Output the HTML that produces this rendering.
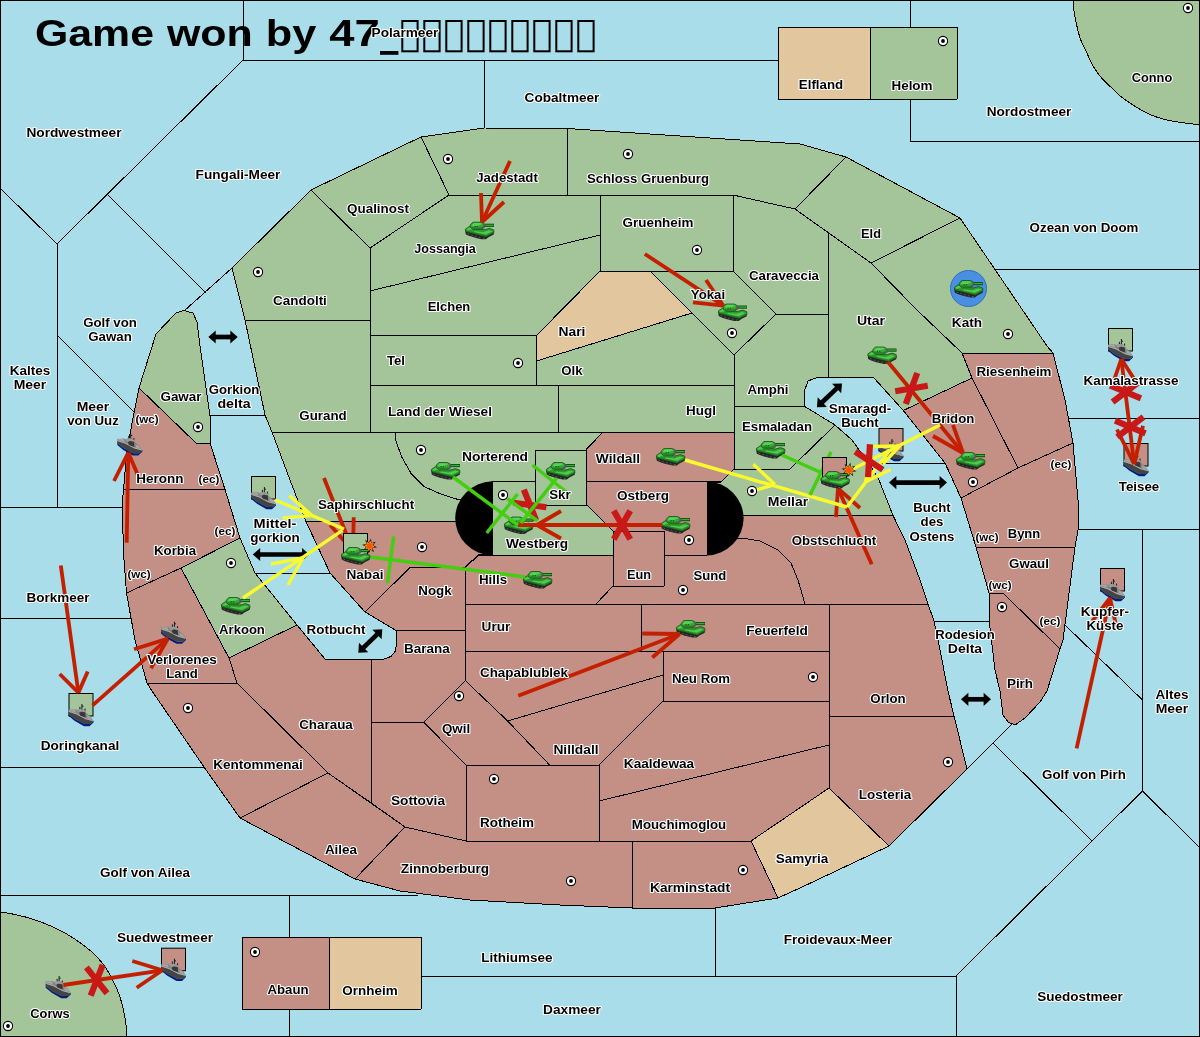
<!DOCTYPE html>
<html><head><meta charset="utf-8"><title>Game map</title>
<style>html,body{margin:0;padding:0;background:#a8dde9;overflow:hidden}body{width:1200px;height:1037px;position:relative;font-family:"Liberation Sans",sans-serif}</style>
</head><body>
<svg width="1200" height="1037" viewBox="0 0 1200 1037" style="display:block;position:absolute;left:0;top:0;will-change:transform" shape-rendering="geometricPrecision">
<defs>
<g id="tank">
<path d="M0.2,8.6 L0.7,12.6 L3,13.8 L8,15.4 L12,16.6 L16.4,17.5 L20.8,17.5 L23.4,15.6 L28.7,12.7 L29,10 L20,13 Z" fill="#262626"/>
<path d="M2.6,12 L4,12.6 M6.4,13.4 L7.8,14 M10.2,14.6 L11.6,15.1 M14,15.6 L15.4,16 M18,16.5 L19.6,16.5" stroke="#6a6a6a" stroke-width="0.8"/>
<path d="M0.4,7.4 L4.4,4.7 L8,6.6 L19,8 L24.6,6.6 L28.7,8.1 L29,10.9 L21.2,14.9 L16,13.7 L0.6,9.7 Z" fill="#31992f" stroke="#155217" stroke-width="0.8"/>
<path d="M10,9.4 L18,10.6 L24,8.6 L27.6,9.5 L21,12.7 L9,10.4 Z" fill="#4fca4f"/>
<path d="M1.2,7.7 L4.4,5.5 L7.4,7.2 L3,8.9 Z" fill="#4fca4f"/>
<path d="M0.8,9.2 L16,13 L21.2,14.2 L28.6,10.4" stroke="#1f7a1f" stroke-width="0.9" fill="none"/>
<path d="M5.2,3.2 L8,0.5 L16,0.5 L18.8,1.7 L19.2,6 L15.6,7.8 L8.4,7.8 L5.4,5.6 Z" fill="#38a838" stroke="#155217" stroke-width="0.8"/>
<path d="M7,3 L9,1.3 L15.6,1.3 L17.6,2.3 L12,4.3 L7.4,4.3 Z" fill="#56d256"/>
<path d="M6.4,5.3 L15,5.7 L18.4,4.7 L18.6,6 L15.4,7.2 L8.6,7.2 Z" fill="#267f26"/>
<rect x="9.6" y="4.2" width="1" height="1" fill="#0c300c"/><rect x="11.8" y="4.2" width="1" height="1" fill="#0c300c"/>
<rect x="18.2" y="2" width="1.8" height="4.4" fill="#5f6068"/>
<rect x="19.8" y="2" width="9.2" height="3.2" fill="#0c4f0e"/>
<rect x="20.2" y="2.9" width="8.4" height="1.3" fill="#35b035"/>
</g>
<g id="fleet">
<path d="M0,20.4 L0,22.8 L6,27.8 L15.5,33.2 L21,33.2 L25,29.4 L25,27.6 L21.5,30.8 L16,30.6 Z" fill="#00207f"/>
<path d="M0,16.6 L7,16.2 L8.6,17.2 L11,15.4 L12.4,15.4 L17.2,17.4 L17.6,20 L20,22 L22,23.4 L24.6,27.4 L25,28 L22,31 L16,31 L6,25.8 L0,21 Z" fill="#858585"/>
<path d="M0,18.8 L8,21.4 L17,26.2 L24.8,28.2 L22,31 L16,31 L6,25.8 L0,21 Z" fill="#444"/>
<path d="M0.4,18.4 L8,20.8 L17,25.6 L24.4,27.6" stroke="#b0b0b0" stroke-width="0.9" fill="none"/>
<path d="M1,16.8 L6.4,16.6 L7.4,19.6 L1,17.8 Z M18.4,22.2 L21.6,23.8 L23.6,26.6 L19,25.4 Z" fill="#a6a6a6"/>
<path d="M8.4,17.4 L11,15.6 L12.4,15.6 L16.8,17.6 L17,19.4 L13,18.4 L10.4,19.6 Z" fill="#9a9a9a"/>
<path d="M10.6,19.8 L13,18.8 L16.8,19.6 L17,24.6 L11.6,22.6 Z" fill="#383838"/>
<path d="M13.4,11 L13.4,16.2 M11.4,13.8 L11.4,16 M13.4,13.2 L15,13.2 M16.6,15.6 L16.6,17.4" stroke="#1c1c1c" stroke-width="1" fill="none"/>
</g>
<g id="boom"><polygon points="1.32,-7.48 1.93,-3.04 6.23,-4.36 3.51,-0.78 7.48,1.32 3.04,1.93 4.36,6.23 0.78,3.51 -1.32,7.48 -1.93,3.04 -6.23,4.36 -3.51,0.78 -7.48,-1.32 -3.04,-1.93 -4.36,-6.23 -0.78,-3.51" fill="#111"/><polygon points="0.94,-5.32 1.72,-2.7 4.42,-3.1 3.12,-0.69 5.32,0.94 2.7,1.72 3.1,4.42 0.69,3.12 -0.94,5.32 -1.72,2.7 -4.42,3.1 -3.12,0.69 -5.32,-0.94 -2.7,-1.72 -3.1,-4.42 -0.69,-3.12" fill="#ff9a00"/><polygon points="0,-3.9 1.3,-2.25 3.38,-1.95 2.6,0 3.38,1.95 1.3,2.25 0,3.9 -1.3,2.25 -3.38,1.95 -2.6,0 -3.38,-1.95 -1.3,-2.25" fill="#ff5200"/></g>
<g id="sc"><circle r="4.6" fill="#fff" stroke="#000" stroke-width="1.1"/><circle r="1.9" fill="#000"/></g>
</defs>
<rect x="0" y="0" width="1200" height="1037" fill="#a8dde9"/>
<path d="M1073.5,0 C1073.58,1.8 1073.5,6.75 1074,10.8 C1074.5,14.85 1075.42,19.5667 1076.5,24.3 C1077.58,29.0333 1078.7,34.25 1080.5,39.2 C1082.3,44.15 1085.05,49.2667 1087.3,54 C1089.55,58.7333 1091.55,63.5333 1094,67.6 C1096.45,71.6667 1099.07,75.0333 1102,78.4 C1104.93,81.7667 1108.43,84.7667 1111.6,87.8 C1114.77,90.8333 1117.17,93.5667 1121,96.6 C1124.83,99.6333 1129.63,102.95 1134.6,106 C1139.57,109.05 1145.17,112.517 1150.8,114.9 C1156.43,117.283 1162.53,118.917 1168.4,120.3 C1174.27,121.683 1180.73,122.483 1186,123.2 C1191.27,123.917 1197.67,124.367 1200,124.6 L1200,0 Z" fill="#a4c499" stroke="#000" stroke-width="1" shape-rendering="crispEdges"/>
<path d="M0,912 C2.66667,912.45 10.45,913.483 16,914.7 C21.55,915.917 27.5167,917.417 33.3,919.3 C39.0833,921.183 45.1333,923.55 50.7,926 C56.2667,928.45 61.8167,931.217 66.7,934 C71.5833,936.783 75.5667,939.483 80,942.7 C84.4333,945.917 89.3,949.533 93.3,953.3 C97.3,957.067 100.883,961.067 104,965.3 C107.117,969.533 109.55,974.033 112,978.7 C114.45,983.367 116.817,988.2 118.7,993.3 C120.583,998.4 122.083,1003.97 123.3,1009.3 C124.517,1014.63 125.433,1020.68 126,1025.3 C126.567,1029.92 126.583,1035.05 126.7,1037 L0,1037 Z" fill="#a4c499" stroke="#000" stroke-width="1" shape-rendering="crispEdges"/>
<polyline points="243,0 243,60 910,60" fill="none" stroke="#000" stroke-width="1" shape-rendering="crispEdges"/>
<polyline points="243,60 57,244" fill="none" stroke="#000" stroke-width="1" shape-rendering="crispEdges"/>
<polyline points="0,188 57,244 57,507" fill="none" stroke="#000" stroke-width="1" shape-rendering="crispEdges"/>
<polyline points="0,507 122,507" fill="none" stroke="#000" stroke-width="1" shape-rendering="crispEdges"/>
<polyline points="108,195 206,293" fill="none" stroke="#000" stroke-width="1" shape-rendering="crispEdges"/>
<polyline points="184,311 232,268" fill="none" stroke="#000" stroke-width="1" shape-rendering="crispEdges"/>
<polyline points="57,335 134,412" fill="none" stroke="#000" stroke-width="1" shape-rendering="crispEdges"/>
<polyline points="484,60 484,128" fill="none" stroke="#000" stroke-width="1" shape-rendering="crispEdges"/>
<polyline points="910,0 910,141" fill="none" stroke="#000" stroke-width="1" shape-rendering="crispEdges"/>
<polyline points="910,141 1200,141" fill="none" stroke="#000" stroke-width="1" shape-rendering="crispEdges"/>
<polyline points="995,269.5 1200,269.5" fill="none" stroke="#000" stroke-width="1" shape-rendering="crispEdges"/>
<polyline points="1068,418.5 1200,418.5" fill="none" stroke="#000" stroke-width="1" shape-rendering="crispEdges"/>
<polyline points="1078,529 1200,529" fill="none" stroke="#000" stroke-width="1" shape-rendering="crispEdges"/>
<polyline points="1142.5,529 1142.5,791" fill="none" stroke="#000" stroke-width="1" shape-rendering="crispEdges"/>
<polyline points="1065,625 1142.5,700" fill="none" stroke="#000" stroke-width="1" shape-rendering="crispEdges"/>
<polyline points="1142.5,791 1200,848" fill="none" stroke="#000" stroke-width="1" shape-rendering="crispEdges"/>
<polyline points="1142.5,791 956,976" fill="none" stroke="#000" stroke-width="1" shape-rendering="crispEdges"/>
<polyline points="1092,841 993,743" fill="none" stroke="#000" stroke-width="1" shape-rendering="crispEdges"/>
<polyline points="1012,724 967,769" fill="none" stroke="#000" stroke-width="1" shape-rendering="crispEdges"/>
<polyline points="421,976 956,976 956,1037" fill="none" stroke="#000" stroke-width="1" shape-rendering="crispEdges"/>
<polyline points="715,908 715,976" fill="none" stroke="#000" stroke-width="1" shape-rendering="crispEdges"/>
<polyline points="0,895 418,895" fill="none" stroke="#000" stroke-width="1" shape-rendering="crispEdges"/>
<polyline points="289,895 289,1037" fill="none" stroke="#000" stroke-width="1" shape-rendering="crispEdges"/>
<polyline points="0,767 204,767" fill="none" stroke="#000" stroke-width="1" shape-rendering="crispEdges"/>
<polyline points="0,618.5 131,618.5" fill="none" stroke="#000" stroke-width="1" shape-rendering="crispEdges"/>
<polyline points="210,415 265,415" fill="none" stroke="#000" stroke-width="1" shape-rendering="crispEdges"/>
<polyline points="255,573 330,573" fill="none" stroke="#000" stroke-width="1" shape-rendering="crispEdges"/>
<polyline points="934,621 989,621" fill="none" stroke="#000" stroke-width="1" shape-rendering="crispEdges"/>
<polyline points="868,463.5 945,463.5" fill="none" stroke="#000" stroke-width="1" shape-rendering="crispEdges"/>
<polygon points="232,268 311,190 370,248 370,320 245,320" fill="#a4c499" stroke="#000" stroke-width="1" stroke-linejoin="round" shape-rendering="crispEdges"/>
<polygon points="311,190 400,147 421,137 449,195 370,248" fill="#a4c499" stroke="#000" stroke-width="1" stroke-linejoin="round" shape-rendering="crispEdges"/>
<polygon points="421,137 484,128 567,128.5 567,195 449,195" fill="#a4c499" stroke="#000" stroke-width="1" stroke-linejoin="round" shape-rendering="crispEdges"/>
<polygon points="567,128.5 800,144 846,157 795,209 733,195 567,195" fill="#a4c499" stroke="#000" stroke-width="1" stroke-linejoin="round" shape-rendering="crispEdges"/>
<polygon points="449,195 600,195 600,235 370,291 370,248" fill="#a4c499" stroke="#000" stroke-width="1" stroke-linejoin="round" shape-rendering="crispEdges"/>
<polygon points="600,195 733,195 733,271 600,271" fill="#a4c499" stroke="#000" stroke-width="1" stroke-linejoin="round" shape-rendering="crispEdges"/>
<polygon points="370,291 600,235 600,271 536.5,335.5 370,335.5" fill="#a4c499" stroke="#000" stroke-width="1" stroke-linejoin="round" shape-rendering="crispEdges"/>
<polygon points="600,271 650,271 692,313 536.5,361 536.5,335.5" fill="#e2c69e" stroke="#000" stroke-width="1" stroke-linejoin="round" shape-rendering="crispEdges"/>
<polygon points="370,335.5 536.5,335.5 536.5,385 370,385" fill="#a4c499" stroke="#000" stroke-width="1" stroke-linejoin="round" shape-rendering="crispEdges"/>
<polygon points="536.5,361 692,313 734,355 734,385 536.5,385" fill="#a4c499" stroke="#000" stroke-width="1" stroke-linejoin="round" shape-rendering="crispEdges"/>
<polygon points="650,271 733,271 776,314 734,355" fill="#a4c499" stroke="#000" stroke-width="1" stroke-linejoin="round" shape-rendering="crispEdges"/>
<polygon points="733,195 795,209 828,232.5 828,314 776,314 733,271" fill="#a4c499" stroke="#000" stroke-width="1" stroke-linejoin="round" shape-rendering="crispEdges"/>
<polygon points="846,157 960,218 871,263 795,209" fill="#a4c499" stroke="#000" stroke-width="1" stroke-linejoin="round" shape-rendering="crispEdges"/>
<polygon points="828,232.5 871,263 917,310 962,353 972,378 903.3,410.5 874,378 828,377.5" fill="#a4c499" stroke="#000" stroke-width="1" stroke-linejoin="round" shape-rendering="crispEdges"/>
<polygon points="960,218 1047,346 1053,353 962,353 917,310 871,263" fill="#a4c499" stroke="#000" stroke-width="1" stroke-linejoin="round" shape-rendering="crispEdges"/>
<polygon points="734,355 776,314 828,314 828,377.5 817,377.5 808,381 804,392 804,406 734,406" fill="#a4c499" stroke="#000" stroke-width="1" stroke-linejoin="round" shape-rendering="crispEdges"/>
<polygon points="245,320 370,320 370,432 272,432 265,415" fill="#a4c499" stroke="#000" stroke-width="1" stroke-linejoin="round" shape-rendering="crispEdges"/>
<polygon points="370,385 558,385 558,432 370,432" fill="#a4c499" stroke="#000" stroke-width="1" stroke-linejoin="round" shape-rendering="crispEdges"/>
<polygon points="558,385 734,385 734,432 558,432" fill="#a4c499" stroke="#000" stroke-width="1" stroke-linejoin="round" shape-rendering="crispEdges"/>
<polygon points="734,406 804,406 835,425 790,469 734,469" fill="#a4c499" stroke="#000" stroke-width="1" stroke-linejoin="round" shape-rendering="crispEdges"/>
<polygon points="734,469 790,469 835,425 852,440 872,468 879,480 893,515.5 707,515.5 707,482 721,482" fill="#a4c499" stroke="#000" stroke-width="1" stroke-linejoin="round" shape-rendering="crispEdges"/>
<polygon points="272,432 395,432 396,441 401.4,456.3 411.2,473.7 424.2,486.7 441.5,494.3 458.8,499.7 492,500 492,521.5 306,521.5 290,480" fill="#a4c499" stroke="#000" stroke-width="1" stroke-linejoin="round" shape-rendering="crispEdges"/>
<polygon points="395,432 603,432 587,449 587,450.3 535.5,450.3 535.5,481.7 492,481.7 492,500 458.8,499.7 441.5,494.3 424.2,486.7 411.2,473.7 401.4,456.3 396,441" fill="#a4c499" stroke="#000" stroke-width="1" stroke-linejoin="round" shape-rendering="crispEdges"/>
<polygon points="535.5,450.3 586.7,450.3 586.7,505 535.5,505" fill="#a4c499" stroke="#000" stroke-width="1" stroke-linejoin="round" shape-rendering="crispEdges"/>
<polygon points="492,481.7 535.5,481.7 535.5,505 586.7,505 613,531 613,555 492,555" fill="#a4c499" stroke="#000" stroke-width="1" stroke-linejoin="round" shape-rendering="crispEdges"/>
<polygon points="240,538 181,568 229,658 297,625 255,573" fill="#a4c499" stroke="#000" stroke-width="1" stroke-linejoin="round" shape-rendering="crispEdges"/>
<polygon points="139,388 156,334 176,313 184,310.5 193,313 197,322 200,346 210,416 210,443 196,443" fill="#a4c499" stroke="#000" stroke-width="1" stroke-linejoin="round" shape-rendering="crispEdges"/>
<polygon points="139,388 196,443 210,443 225,489.5 123.5,489.5 127,450 134,413" fill="#c48f85" stroke="#000" stroke-width="1" stroke-linejoin="round" shape-rendering="crispEdges"/>
<polygon points="123.5,489.5 225,489.5 240,538 181,568 126.5,593 124,560 122,507" fill="#c48f85" stroke="#000" stroke-width="1" stroke-linejoin="round" shape-rendering="crispEdges"/>
<polygon points="126.5,593 181,568 229,658 237,683 147,683 135,640" fill="#c48f85" stroke="#000" stroke-width="1" stroke-linejoin="round" shape-rendering="crispEdges"/>
<polygon points="147,683 237,683 328,773 240,818 204,767 152,691" fill="#c48f85" stroke="#000" stroke-width="1" stroke-linejoin="round" shape-rendering="crispEdges"/>
<polygon points="229,658 297,625 325,659 371.6,659 371.6,803.2 328,773 237,683" fill="#c48f85" stroke="#000" stroke-width="1" stroke-linejoin="round" shape-rendering="crispEdges"/>
<polygon points="240,818 328,773 405,827 355,879" fill="#c48f85" stroke="#000" stroke-width="1" stroke-linejoin="round" shape-rendering="crispEdges"/>
<polygon points="371.6,722.4 423.9,722.4 466,765 466,841 405,827 371.6,803.2" fill="#c48f85" stroke="#000" stroke-width="1" stroke-linejoin="round" shape-rendering="crispEdges"/>
<polygon points="396,630.4 465.4,630.4 465.4,680.7 423.9,722.4 371.6,722.4 371.6,659 384,659 391,656.5 395.5,651 396.5,643" fill="#c48f85" stroke="#000" stroke-width="1" stroke-linejoin="round" shape-rendering="crispEdges"/>
<polygon points="365,612 410,567.5 465.4,567.5 465.4,630.4 396,630.4" fill="#c48f85" stroke="#000" stroke-width="1" stroke-linejoin="round" shape-rendering="crispEdges"/>
<polygon points="306,521.5 492,521.5 492,555 479,554 465,567.5 410,567.5 365,612 330,573" fill="#c48f85" stroke="#000" stroke-width="1" stroke-linejoin="round" shape-rendering="crispEdges"/>
<polygon points="479,555 613,555 613,586 596,604 465,604 465,567.5" fill="#c48f85" stroke="#000" stroke-width="1" stroke-linejoin="round" shape-rendering="crispEdges"/>
<polygon points="465.4,604.2 641,604.2 641,651.6 465.4,651.6" fill="#c48f85" stroke="#000" stroke-width="1" stroke-linejoin="round" shape-rendering="crispEdges"/>
<polygon points="465.4,651.6 663,651.6 663,675 507.6,721 465.4,680.7" fill="#c48f85" stroke="#000" stroke-width="1" stroke-linejoin="round" shape-rendering="crispEdges"/>
<polygon points="465.4,680.7 507.6,721 549.6,765 466,765 423.9,722.4" fill="#c48f85" stroke="#000" stroke-width="1" stroke-linejoin="round" shape-rendering="crispEdges"/>
<polygon points="613,531 664,531 664,586 613,586" fill="#c48f85" stroke="#000" stroke-width="1" stroke-linejoin="round" shape-rendering="crispEdges"/>
<polygon points="586.7,481.7 707,481.7 707,555 664,555 664,531 613,531 586.7,505" fill="#c48f85" stroke="#000" stroke-width="1" stroke-linejoin="round" shape-rendering="crispEdges"/>
<polygon points="603,432 734,432 734,469 721,482 586.7,481.7 586.7,449" fill="#c48f85" stroke="#000" stroke-width="1" stroke-linejoin="round" shape-rendering="crispEdges"/>
<polygon points="613,586 664,586 664,555 707,555 707,538 742,538 760,541 778,550 791,563 798,580 805,604 596,604" fill="#c48f85" stroke="#000" stroke-width="1" stroke-linejoin="round" shape-rendering="crispEdges"/>
<polygon points="707,515.5 893,515.5 905,540 920,580 928,604 805,604 798,580 791,563 778,550 760,541 742,538 707,538" fill="#c48f85" stroke="#000" stroke-width="1" stroke-linejoin="round" shape-rendering="crispEdges"/>
<polygon points="641,604 829,604 829,651 641,651" fill="#c48f85" stroke="#000" stroke-width="1" stroke-linejoin="round" shape-rendering="crispEdges"/>
<polygon points="663,651 829,651 829,701 663,701" fill="#c48f85" stroke="#000" stroke-width="1" stroke-linejoin="round" shape-rendering="crispEdges"/>
<polygon points="829,604 928,604 934,621 940,650 948,691 954,716 829,716" fill="#c48f85" stroke="#000" stroke-width="1" stroke-linejoin="round" shape-rendering="crispEdges"/>
<polygon points="829,716 954,716 967,769 889,846 829,788" fill="#c48f85" stroke="#000" stroke-width="1" stroke-linejoin="round" shape-rendering="crispEdges"/>
<polygon points="751,841 829,788 889,846 800,888 778,898" fill="#e2c69e" stroke="#000" stroke-width="1" stroke-linejoin="round" shape-rendering="crispEdges"/>
<polygon points="632,841 751,841 778,898 715,908 632,908" fill="#c48f85" stroke="#000" stroke-width="1" stroke-linejoin="round" shape-rendering="crispEdges"/>
<polygon points="405,827 466,841 632,841 632,908 560,905 470,900 400,891 355,879" fill="#c48f85" stroke="#000" stroke-width="1" stroke-linejoin="round" shape-rendering="crispEdges"/>
<polygon points="466,765 599,765 599,841 466,841" fill="#c48f85" stroke="#000" stroke-width="1" stroke-linejoin="round" shape-rendering="crispEdges"/>
<polygon points="599,801 800,752 829,745 829,788 751,841 599,841" fill="#c48f85" stroke="#000" stroke-width="1" stroke-linejoin="round" shape-rendering="crispEdges"/>
<polygon points="599,765 663,701 829,701 829,745 800,752 599,801" fill="#c48f85" stroke="#000" stroke-width="1" stroke-linejoin="round" shape-rendering="crispEdges"/>
<polygon points="507.6,721 663,675 663,701 599,765 549.6,765" fill="#c48f85" stroke="#000" stroke-width="1" stroke-linejoin="round" shape-rendering="crispEdges"/>
<polygon points="962,353 1053,353 1065,400 1073,443 1018,468 972,378" fill="#c48f85" stroke="#000" stroke-width="1" stroke-linejoin="round" shape-rendering="crispEdges"/>
<polygon points="972,378 1018,468 961,498 945,463 903.3,410.5" fill="#c48f85" stroke="#000" stroke-width="1" stroke-linejoin="round" shape-rendering="crispEdges"/>
<polygon points="1073,443 1078,500 1078,530 1075,547 976,547 961,498 1018,468" fill="#c48f85" stroke="#000" stroke-width="1" stroke-linejoin="round" shape-rendering="crispEdges"/>
<polygon points="976,547 1075,547 1063,640 1060,649 1003,593 989,593" fill="#c48f85" stroke="#000" stroke-width="1" stroke-linejoin="round" shape-rendering="crispEdges"/>
<polygon points="989,593 1003,593 1060,649 1047,691 1040,702 1025,718 1015,725 1008,722 1003,715 1000,691 995,670 989,620" fill="#c48f85" stroke="#000" stroke-width="1" stroke-linejoin="round" shape-rendering="crispEdges"/>
<polygon points="778,27 870,27 870,99 778,99" fill="#e2c69e" stroke="#000" stroke-width="1" stroke-linejoin="round" shape-rendering="crispEdges"/>
<polygon points="870,27 957,27 957,99 870,99" fill="#a4c499" stroke="#000" stroke-width="1" stroke-linejoin="round" shape-rendering="crispEdges"/>
<polygon points="242,937 329,937 329,1009 242,1009" fill="#c48f85" stroke="#000" stroke-width="1" stroke-linejoin="round" shape-rendering="crispEdges"/>
<polygon points="329,937 421,937 421,1009 329,1009" fill="#e2c69e" stroke="#000" stroke-width="1" stroke-linejoin="round" shape-rendering="crispEdges"/>
<path d="M492,481.2 A38.8,37.2 0 0 0 492,555.5 Z" fill="#000"/>
<path d="M707,481.2 A38.6,37.2 0 0 1 707,555.5 Z" fill="#000"/>
<rect x="0.5" y="0.5" width="1199" height="1036" fill="none" stroke="#000" stroke-width="1"/>
<line x1="212.3" y1="337" x2="233.7" y2="337" stroke="#000" stroke-width="4.7"/><polygon points="208.3,337 215.7,343.6 215.7,330.4" fill="#000"/><polygon points="237.7,337 230.3,343.6 230.3,330.4" fill="#000"/>
<line x1="256.8" y1="554.5" x2="305.4" y2="554.5" stroke="#000" stroke-width="4.7"/><polygon points="252.8,554.5 260.2,561.1 260.2,547.9" fill="#000"/><polygon points="309.4,554.5 302,561.1 302,547.9" fill="#000"/>
<line x1="361.164" y1="649.908" x2="379.436" y2="632.092" stroke="#000" stroke-width="4.7"/><polygon points="358.3,652.7 368.206,652.26 358.991,642.808" fill="#000"/><polygon points="382.3,629.3 381.609,639.192 372.394,629.74" fill="#000"/>
<line x1="819.803" y1="404.448" x2="839.097" y2="386.152" stroke="#000" stroke-width="4.7"/><polygon points="816.9,407.2 826.811,406.898 817.729,397.319" fill="#000"/><polygon points="842,383.4 841.171,393.281 832.089,383.702" fill="#000"/>
<line x1="893" y1="482.6" x2="943" y2="482.6" stroke="#000" stroke-width="4.7"/><polygon points="889,482.6 896.4,489.2 896.4,476" fill="#000"/><polygon points="947,482.6 939.6,489.2 939.6,476" fill="#000"/>
<line x1="965" y1="699.3" x2="987" y2="699.3" stroke="#000" stroke-width="4.7"/><polygon points="961,699.3 968.4,705.9 968.4,692.7" fill="#000"/><polygon points="991,699.3 983.6,705.9 983.6,692.7" fill="#000"/>
<rect x="251.5" y="476.5" width="24" height="22.5" fill="#a4c499" stroke="#000" stroke-width="1"/>
<rect x="69" y="693.5" width="24" height="22.5" fill="#a4c499" stroke="#000" stroke-width="1"/>
<rect x="1108.5" y="328.5" width="24" height="22.5" fill="#a4c499" stroke="#000" stroke-width="1"/>
<rect x="161.5" y="948.2" width="24" height="22.5" fill="#c48f85" stroke="#000" stroke-width="1"/>
<rect x="879" y="428.5" width="24" height="22.5" fill="#c48f85" stroke="#000" stroke-width="1"/>
<rect x="1124" y="443.5" width="24" height="22.5" fill="#c48f85" stroke="#000" stroke-width="1"/>
<rect x="1100.5" y="568.5" width="24" height="22.5" fill="#c48f85" stroke="#000" stroke-width="1"/>
<circle cx="968.5" cy="288.5" r="18" fill="#4a90e2" stroke="#2f6fbf" stroke-width="1"/>
<g stroke-linecap="butt">
<use href="#tank" x="465" y="221.7"/>
<use href="#tank" x="718" y="303.5"/>
<use href="#tank" x="954" y="280"/>
<use href="#tank" x="867.5" y="346.5"/>
<use href="#tank" x="431" y="462"/>
<use href="#tank" x="546" y="462"/>
<use href="#tank" x="656" y="448"/>
<use href="#tank" x="756" y="441"/>
<use href="#tank" x="956" y="452"/>
<use href="#tank" x="504" y="516.5"/>
<use href="#tank" x="661" y="516"/>
<use href="#tank" x="523" y="571"/>
<use href="#tank" x="221" y="597"/>
<use href="#tank" x="676" y="620"/>
<use href="#fleet" x="117.3" y="422.3"/>
<use href="#fleet" x="251" y="476"/>
<use href="#fleet" x="161" y="610.6"/>
<use href="#fleet" x="68.5" y="693"/>
<use href="#fleet" x="45.7" y="965"/>
<use href="#fleet" x="161" y="947.7"/>
<use href="#fleet" x="878.5" y="428"/>
<use href="#fleet" x="1108" y="328"/>
<use href="#fleet" x="1123.5" y="443"/>
<use href="#fleet" x="1100" y="568"/>
<line x1="513.661" y1="502.698" x2="546.339" y2="507.302" stroke="#c81818" stroke-width="6.2"/><line x1="536.176" y1="520.301" x2="523.824" y2="489.699" stroke="#c81818" stroke-width="6.2"/>
<line x1="510" y1="161" x2="482" y2="222" stroke="#c42000" stroke-width="3.8"/>
<line x1="481" y1="193" x2="482" y2="222" stroke="#c42000" stroke-width="3.8"/><line x1="504" y1="202" x2="482" y2="222" stroke="#c42000" stroke-width="3.8"/>
<line x1="644.8" y1="254" x2="723.4" y2="305.7" stroke="#c42000" stroke-width="3.8"/>
<line x1="706" y1="280" x2="723.4" y2="305.7" stroke="#c42000" stroke-width="3.8"/><line x1="693" y1="302.4" x2="723.4" y2="305.7" stroke="#c42000" stroke-width="3.8"/>
<line x1="324" y1="478" x2="353" y2="551" stroke="#c42000" stroke-width="3.8"/>
<line x1="330.2" y1="525.1" x2="353" y2="551" stroke="#c42000" stroke-width="3.8"/><line x1="353.7" y1="517.3" x2="353" y2="551" stroke="#c42000" stroke-width="3.8"/>
<line x1="126.7" y1="542.7" x2="128.3" y2="452.7" stroke="#c42000" stroke-width="3.8"/>
<line x1="114" y1="481" x2="128.3" y2="452.7" stroke="#c42000" stroke-width="3.8"/><line x1="140" y1="480" x2="128.3" y2="452.7" stroke="#c42000" stroke-width="3.8"/>
<line x1="60.8" y1="565.5" x2="78.4" y2="692.7" stroke="#c42000" stroke-width="3.8"/>
<line x1="59.7" y1="674" x2="78.4" y2="692.7" stroke="#c42000" stroke-width="3.8"/><line x1="87.7" y1="671.5" x2="78.4" y2="692.7" stroke="#c42000" stroke-width="3.8"/>
<line x1="92.6" y1="705.4" x2="167.9" y2="638.6" stroke="#c42000" stroke-width="3.8"/>
<line x1="134" y1="649.2" x2="167.9" y2="638.6" stroke="#c42000" stroke-width="3.8"/><line x1="151" y1="668.3" x2="167.9" y2="638.6" stroke="#c42000" stroke-width="3.8"/>
<line x1="518.3" y1="695.8" x2="679.5" y2="634" stroke="#c42000" stroke-width="3.8"/>
<line x1="642.2" y1="633.5" x2="679.5" y2="634" stroke="#c42000" stroke-width="3.8"/><line x1="652.3" y1="657.5" x2="679.5" y2="634" stroke="#c42000" stroke-width="3.8"/>
<line x1="662" y1="525" x2="518" y2="525" stroke="#c42000" stroke-width="3.8"/>
<line x1="561" y1="511" x2="537" y2="525" stroke="#c42000" stroke-width="3.8"/><line x1="561" y1="538.5" x2="537" y2="525" stroke="#c42000" stroke-width="3.8"/>
<line x1="871.7" y1="564.3" x2="838" y2="488.4" stroke="#c42000" stroke-width="3.8"/>
<line x1="836" y1="517" x2="838" y2="488.4" stroke="#c42000" stroke-width="3.8"/><line x1="860" y1="508" x2="838" y2="488.4" stroke="#c42000" stroke-width="3.8"/>
<line x1="888" y1="362" x2="963" y2="453" stroke="#c42000" stroke-width="3.8"/>
<line x1="933" y1="436" x2="963" y2="453" stroke="#c42000" stroke-width="3.8"/><line x1="953" y1="425" x2="963" y2="453" stroke="#c42000" stroke-width="3.8"/>
<line x1="1121.3" y1="359" x2="1134.2" y2="464" stroke="#c42000" stroke-width="3.8"/>
<line x1="1117" y1="429.5" x2="1134.2" y2="464" stroke="#c42000" stroke-width="3.8"/><line x1="1143" y1="425.7" x2="1134.2" y2="464" stroke="#c42000" stroke-width="3.8"/>
<line x1="1111" y1="389" x2="1121.3" y2="359" stroke="#c42000" stroke-width="3.8"/><line x1="1138" y1="385" x2="1121.3" y2="359" stroke="#c42000" stroke-width="3.8"/>
<line x1="1076.6" y1="748.3" x2="1110" y2="598" stroke="#c42000" stroke-width="3.8"/>
<line x1="1092.33" y1="620.998" x2="1110" y2="598" stroke="#c42000" stroke-width="3.8"/><line x1="1116.26" y1="626.316" x2="1110" y2="598" stroke="#c42000" stroke-width="3.8"/>
<line x1="63.3" y1="985" x2="162.3" y2="970.3" stroke="#c42000" stroke-width="3.8"/>
<line x1="132.3" y1="961" x2="162.3" y2="970.3" stroke="#c42000" stroke-width="3.8"/><line x1="136.7" y1="987.7" x2="162.3" y2="970.3" stroke="#c42000" stroke-width="3.8"/>
<line x1="685" y1="460" x2="847" y2="507" stroke="#f9f92f" stroke-width="3.4"/>
<line x1="753.3" y1="464.3" x2="775" y2="484.5" stroke="#f9f92f" stroke-width="3.4"/><line x1="746.7" y1="492.7" x2="775" y2="484.5" stroke="#f9f92f" stroke-width="3.4"/>
<line x1="890" y1="450" x2="847" y2="507" stroke="#f9f92f" stroke-width="3.4"/>
<line x1="890.7" y1="469.5" x2="865.7" y2="481.6" stroke="#f9f92f" stroke-width="3.4"/><line x1="871" y1="455" x2="865.7" y2="481.6" stroke="#f9f92f" stroke-width="3.4"/>
<line x1="835" y1="478" x2="940" y2="425" stroke="#f9f92f" stroke-width="3.4"/>
<line x1="873" y1="446.5" x2="899.5" y2="446" stroke="#f9f92f" stroke-width="3.4"/><line x1="883" y1="464" x2="899.5" y2="446" stroke="#f9f92f" stroke-width="3.4"/>
<line x1="275" y1="500" x2="344" y2="529" stroke="#f9f92f" stroke-width="3.4"/>
<line x1="289.4" y1="495.6" x2="312" y2="515.5" stroke="#f9f92f" stroke-width="3.4"/><line x1="282.5" y1="518" x2="312" y2="515.5" stroke="#f9f92f" stroke-width="3.4"/>
<line x1="243" y1="598" x2="342.4" y2="530.3" stroke="#f9f92f" stroke-width="3.4"/>
<line x1="271" y1="564" x2="303" y2="557.8" stroke="#f9f92f" stroke-width="3.4"/><line x1="288" y1="585" x2="303" y2="557.8" stroke="#f9f92f" stroke-width="3.4"/>
<line x1="453" y1="477" x2="518" y2="525" stroke="#43ce10" stroke-width="3.5"/>
<line x1="486.7" y1="533" x2="517.5" y2="494" stroke="#43ce10" stroke-width="3.5"/>
<line x1="556.7" y1="478" x2="520.8" y2="523" stroke="#43ce10" stroke-width="3.5"/>
<line x1="532.5" y1="465" x2="570" y2="495" stroke="#43ce10" stroke-width="3.5"/>
<line x1="507.5" y1="498.75" x2="537.5" y2="520.8" stroke="#43ce10" stroke-width="3.5"/>
<line x1="525" y1="577" x2="370" y2="557" stroke="#43ce10" stroke-width="3.5"/>
<line x1="393.6" y1="536.4" x2="387.5" y2="583" stroke="#43ce10" stroke-width="3.5"/>
<line x1="782" y1="455" x2="822" y2="473" stroke="#43ce10" stroke-width="3.5"/>
<line x1="831" y1="452" x2="810" y2="495" stroke="#43ce10" stroke-width="3.5"/>
<line x1="917.225" y1="373.025" x2="905.775" y2="403.975" stroke="#c81818" stroke-width="6.2"/><line x1="895.236" y1="391.28" x2="927.764" y2="385.72" stroke="#c81818" stroke-width="6.2"/>
<line x1="630.25" y1="539.289" x2="613.75" y2="510.711" stroke="#c81818" stroke-width="6.2"/><line x1="630.25" y1="510.711" x2="613.75" y2="539.289" stroke="#c81818" stroke-width="6.2"/>
<line x1="855.196" y1="451.661" x2="882.804" y2="469.739" stroke="#c81818" stroke-width="6.2"/><line x1="868.074" y1="477.174" x2="869.926" y2="444.226" stroke="#c81818" stroke-width="6.2"/>
<line x1="1138.83" y1="382.012" x2="1112.57" y2="401.988" stroke="#c81818" stroke-width="6.2"/><line x1="1110.48" y1="385.62" x2="1140.92" y2="398.38" stroke="#c81818" stroke-width="6.2"/>
<line x1="1117.17" y1="436.988" x2="1143.43" y2="417.012" stroke="#c81818" stroke-width="6.2"/><line x1="1145.52" y1="433.38" x2="1115.08" y2="420.62" stroke="#c81818" stroke-width="6.2"/>
<line x1="86.4025" y1="967.408" x2="106.998" y2="993.192" stroke="#c81818" stroke-width="6.2"/><line x1="90.6837" y1="995.664" x2="102.716" y2="964.936" stroke="#c81818" stroke-width="6.2"/>
</g>
<rect x="822.5" y="457.5" width="24" height="22.5" fill="#c48f85" stroke="#000" stroke-width="1"/>
<rect x="343.5" y="533.5" width="24" height="22.5" fill="#a4c499" stroke="#000" stroke-width="1"/>
<use href="#tank" x="820.5" y="471"/>
<use href="#tank" x="341" y="547"/>
<use href="#sc" x="448" y="159"/>
<use href="#sc" x="628" y="154"/>
<use href="#sc" x="258" y="272"/>
<use href="#sc" x="697" y="250"/>
<use href="#sc" x="732" y="333"/>
<use href="#sc" x="518" y="363"/>
<use href="#sc" x="1008" y="334"/>
<use href="#sc" x="198" y="427"/>
<use href="#sc" x="421" y="450"/>
<use href="#sc" x="503" y="495"/>
<use href="#sc" x="422" y="547"/>
<use href="#sc" x="689" y="540"/>
<use href="#sc" x="683" y="590"/>
<use href="#sc" x="752" y="491"/>
<use href="#sc" x="231" y="563"/>
<use href="#sc" x="973" y="482"/>
<use href="#sc" x="1002" y="607"/>
<use href="#sc" x="813" y="677"/>
<use href="#sc" x="459" y="696"/>
<use href="#sc" x="494" y="779"/>
<use href="#sc" x="188" y="708"/>
<use href="#sc" x="571" y="881"/>
<use href="#sc" x="743" y="870"/>
<use href="#sc" x="948" y="762"/>
<use href="#sc" x="255" y="952"/>
<use href="#sc" x="8" y="1026"/>
<use href="#sc" x="943" y="41"/>
<use href="#sc" x="1188" y="8"/>
<use href="#boom" x="849" y="470"/><use href="#boom" x="369.6" y="546"/>
<g font-family="Liberation Sans, sans-serif" font-weight="bold" font-size="37.7" fill="#000">
<text x="35" y="46" textLength="119" lengthAdjust="spacingAndGlyphs">Game</text>
<text x="166.9" y="46" textLength="85.9" lengthAdjust="spacingAndGlyphs">won</text>
<text x="265.7" y="46" textLength="50.6" lengthAdjust="spacingAndGlyphs">by</text>
<text x="329.2" y="46" textLength="50.5" lengthAdjust="spacingAndGlyphs">47</text>
</g>
<rect x="380" y="51" width="18.4" height="3.8" fill="#000"/>
<rect x="402.3" y="21" width="15.3" height="30.3" fill="none" stroke="#000" stroke-width="2"/>
<rect x="424.3" y="21" width="15.3" height="30.3" fill="none" stroke="#000" stroke-width="2"/>
<rect x="446.3" y="21" width="15.3" height="30.3" fill="none" stroke="#000" stroke-width="2"/>
<rect x="468.3" y="21" width="15.3" height="30.3" fill="none" stroke="#000" stroke-width="2"/>
<rect x="490.3" y="21" width="15.3" height="30.3" fill="none" stroke="#000" stroke-width="2"/>
<rect x="512.3" y="21" width="15.3" height="30.3" fill="none" stroke="#000" stroke-width="2"/>
<rect x="534.3" y="21" width="15.3" height="30.3" fill="none" stroke="#000" stroke-width="2"/>
<rect x="556.3" y="21" width="15.3" height="30.3" fill="none" stroke="#000" stroke-width="2"/>
<rect x="578.3" y="21" width="15.3" height="30.3" fill="none" stroke="#000" stroke-width="2"/>
<g font-family="Liberation Sans, sans-serif" font-weight="bold" font-size="12.2" fill="#000" stroke="#fff" stroke-width="2" stroke-linejoin="round" paint-order="stroke" text-anchor="middle">
<text x="405" y="37.4" textLength="66.7306" lengthAdjust="spacingAndGlyphs">Polarmeer</text>
<text x="562" y="102.4" textLength="74.7735" lengthAdjust="spacingAndGlyphs">Cobaltmeer</text>
<text x="1029" y="116.4" textLength="84.6518" lengthAdjust="spacingAndGlyphs">Nordostmeer</text>
<text x="1152" y="82.4" textLength="40.498" lengthAdjust="spacingAndGlyphs">Conno</text>
<text x="821" y="89.4" textLength="44.3478" lengthAdjust="spacingAndGlyphs">Elfland</text>
<text x="912" y="90.4" textLength="41.1098" lengthAdjust="spacingAndGlyphs">Helom</text>
<text x="74" y="137.4" textLength="95.1419" lengthAdjust="spacingAndGlyphs">Nordwestmeer</text>
<text x="238" y="179.4" textLength="84.7413" lengthAdjust="spacingAndGlyphs">Fungali-Meer</text>
<text x="507" y="182.4" textLength="61.687" lengthAdjust="spacingAndGlyphs">Jadestadt</text>
<text x="648" y="183.4" textLength="122.016" lengthAdjust="spacingAndGlyphs">Schloss Gruenburg</text>
<text x="378" y="213.4" textLength="61.8213" lengthAdjust="spacingAndGlyphs">Qualinost</text>
<text x="658" y="227.4" textLength="70.9535" lengthAdjust="spacingAndGlyphs">Gruenheim</text>
<text x="871" y="238.4" textLength="19.9655" lengthAdjust="spacingAndGlyphs">Eld</text>
<text x="1084" y="232.4" textLength="108.78" lengthAdjust="spacingAndGlyphs">Ozean von Doom</text>
<text x="445" y="253.4" textLength="61.5378" lengthAdjust="spacingAndGlyphs">Jossangia</text>
<text x="784" y="280.4" textLength="70.0134" lengthAdjust="spacingAndGlyphs">Caraveccia</text>
<text x="708" y="299.4" textLength="34.4098" lengthAdjust="spacingAndGlyphs">Yokai</text>
<text x="300" y="305.4" textLength="53.7188" lengthAdjust="spacingAndGlyphs">Candolti</text>
<text x="449" y="311.4" textLength="42.6467" lengthAdjust="spacingAndGlyphs">Elchen</text>
<text x="871" y="325.4" textLength="28.1725" lengthAdjust="spacingAndGlyphs">Utar</text>
<text x="967" y="327.4" textLength="30.2466" lengthAdjust="spacingAndGlyphs">Kath</text>
<text x="572" y="336.4" textLength="26.9041" lengthAdjust="spacingAndGlyphs">Nari</text>
<text x="110" y="327.4" textLength="53.6889" lengthAdjust="spacingAndGlyphs">Golf von</text>
<text x="110" y="341.4" textLength="43.6166" lengthAdjust="spacingAndGlyphs">Gawan</text>
<text x="396" y="365.4" textLength="17.9958" lengthAdjust="spacingAndGlyphs">Tel</text>
<text x="572" y="375.4" textLength="21.2935" lengthAdjust="spacingAndGlyphs">Olk</text>
<text x="1014" y="376.4" textLength="75.072" lengthAdjust="spacingAndGlyphs">Riesenheim</text>
<text x="30" y="375.4" textLength="40.6024" lengthAdjust="spacingAndGlyphs">Kaltes</text>
<text x="30" y="389.4" textLength="32.6043" lengthAdjust="spacingAndGlyphs">Meer</text>
<text x="1131" y="385.4" textLength="95.0225" lengthAdjust="spacingAndGlyphs">Kamalastrasse</text>
<text x="768" y="394.4" textLength="41.0948" lengthAdjust="spacingAndGlyphs">Amphi</text>
<text x="181" y="401.4" textLength="41.1098" lengthAdjust="spacingAndGlyphs">Gawar</text>
<text x="234" y="394.4" textLength="50.5255" lengthAdjust="spacingAndGlyphs">Gorkion</text>
<text x="234" y="408.4" textLength="33.1116" lengthAdjust="spacingAndGlyphs">delta</text>
<text x="93" y="411.4" textLength="32.6043" lengthAdjust="spacingAndGlyphs">Meer</text>
<text x="93" y="425.4" textLength="51.6446" lengthAdjust="spacingAndGlyphs">von Uuz</text>
<text x="440" y="416.4" textLength="103.856" lengthAdjust="spacingAndGlyphs">Land der Wiesel</text>
<text x="701" y="415.4" textLength="29.8885" lengthAdjust="spacingAndGlyphs">Hugl</text>
<text x="323" y="420.4" textLength="47.3173" lengthAdjust="spacingAndGlyphs">Gurand</text>
<text x="860" y="413.4" textLength="62.4779" lengthAdjust="spacingAndGlyphs">Smaragd-</text>
<text x="860" y="427.4" textLength="37.3196" lengthAdjust="spacingAndGlyphs">Bucht</text>
<text x="953" y="423.4" textLength="42.5572" lengthAdjust="spacingAndGlyphs">Bridon</text>
<text x="777" y="431.4" textLength="70.0731" lengthAdjust="spacingAndGlyphs">Esmaladan</text>
<text x="495" y="461.4" textLength="66.1785" lengthAdjust="spacingAndGlyphs">Norterend</text>
<text x="618" y="463.4" textLength="44.2732" lengthAdjust="spacingAndGlyphs">Wildall</text>
<text x="160" y="483.4" textLength="47.2277" lengthAdjust="spacingAndGlyphs">Heronn</text>
<text x="1139" y="491.4" textLength="40.3637" lengthAdjust="spacingAndGlyphs">Teisee</text>
<text x="560" y="499.4" textLength="21.5323" lengthAdjust="spacingAndGlyphs">Skr</text>
<text x="643" y="500.4" textLength="51.8834" lengthAdjust="spacingAndGlyphs">Ostberg</text>
<text x="788" y="506.4" textLength="40.4084" lengthAdjust="spacingAndGlyphs">Mellar</text>
<text x="366" y="509.4" textLength="96.2163" lengthAdjust="spacingAndGlyphs">Saphirschlucht</text>
<text x="932" y="512.4" textLength="37.3196" lengthAdjust="spacingAndGlyphs">Bucht</text>
<text x="932" y="526.4" textLength="22.8006" lengthAdjust="spacingAndGlyphs">des</text>
<text x="932" y="541.4" textLength="44.7955" lengthAdjust="spacingAndGlyphs">Ostens</text>
<text x="275" y="528.4" textLength="42.7362" lengthAdjust="spacingAndGlyphs">Mittel-</text>
<text x="275" y="542.4" textLength="49.3317" lengthAdjust="spacingAndGlyphs">gorkion</text>
<text x="1024" y="538.4" textLength="32.5297" lengthAdjust="spacingAndGlyphs">Bynn</text>
<text x="834" y="545.4" textLength="84.5324" lengthAdjust="spacingAndGlyphs">Obstschlucht</text>
<text x="537" y="548.4" textLength="62.1496" lengthAdjust="spacingAndGlyphs">Westberg</text>
<text x="175" y="555.4" textLength="42.0797" lengthAdjust="spacingAndGlyphs">Korbia</text>
<text x="1029" y="568.4" textLength="39.8116" lengthAdjust="spacingAndGlyphs">Gwaul</text>
<text x="365" y="579.4" textLength="37.1853" lengthAdjust="spacingAndGlyphs">Nabai</text>
<text x="639" y="579.4" textLength="24.1585" lengthAdjust="spacingAndGlyphs">Eun</text>
<text x="710" y="580.4" textLength="32.7834" lengthAdjust="spacingAndGlyphs">Sund</text>
<text x="493" y="584.4" textLength="28.1874" lengthAdjust="spacingAndGlyphs">Hills</text>
<text x="435" y="595.4" textLength="33.3056" lengthAdjust="spacingAndGlyphs">Nogk</text>
<text x="58" y="602.4" textLength="63.03" lengthAdjust="spacingAndGlyphs">Borkmeer</text>
<text x="1105" y="616.4" textLength="48.2275" lengthAdjust="spacingAndGlyphs">Kupfer-</text>
<text x="1105" y="630.4" textLength="36.9167" lengthAdjust="spacingAndGlyphs">Küste</text>
<text x="496" y="631.4" textLength="28.7843" lengthAdjust="spacingAndGlyphs">Urur</text>
<text x="242" y="634.4" textLength="45.7505" lengthAdjust="spacingAndGlyphs">Arkoon</text>
<text x="336" y="634.4" textLength="58.9712" lengthAdjust="spacingAndGlyphs">Rotbucht</text>
<text x="777" y="635.4" textLength="61.6273" lengthAdjust="spacingAndGlyphs">Feuerfeld</text>
<text x="965" y="639.4" textLength="59.4637" lengthAdjust="spacingAndGlyphs">Rodesion</text>
<text x="965" y="653.4" textLength="34.4248" lengthAdjust="spacingAndGlyphs">Delta</text>
<text x="427" y="653.4" textLength="45.7355" lengthAdjust="spacingAndGlyphs">Barana</text>
<text x="182" y="664.4" textLength="69.6553" lengthAdjust="spacingAndGlyphs">Verlorenes</text>
<text x="182" y="678.4" textLength="31.3956" lengthAdjust="spacingAndGlyphs">Land</text>
<text x="524" y="677.4" textLength="88.0689" lengthAdjust="spacingAndGlyphs">Chapablublek</text>
<text x="701" y="683.4" textLength="58.1505" lengthAdjust="spacingAndGlyphs">Neu Rom</text>
<text x="1020" y="688.4" textLength="26.1431" lengthAdjust="spacingAndGlyphs">Pirh</text>
<text x="888" y="703.4" textLength="35.3648" lengthAdjust="spacingAndGlyphs">Orlon</text>
<text x="1172" y="699.4" textLength="32.858" lengthAdjust="spacingAndGlyphs">Altes</text>
<text x="1172" y="713.4" textLength="32.6043" lengthAdjust="spacingAndGlyphs">Meer</text>
<text x="326" y="729.4" textLength="53.5845" lengthAdjust="spacingAndGlyphs">Charaua</text>
<text x="456" y="733.4" textLength="28.1874" lengthAdjust="spacingAndGlyphs">Qwil</text>
<text x="80" y="750.4" textLength="78.5189" lengthAdjust="spacingAndGlyphs">Doringkanal</text>
<text x="576" y="754.4" textLength="45.1536" lengthAdjust="spacingAndGlyphs">Nilldall</text>
<text x="659" y="768.4" textLength="70.297" lengthAdjust="spacingAndGlyphs">Kaaldewaa</text>
<text x="258" y="769.4" textLength="89.4417" lengthAdjust="spacingAndGlyphs">Kentommenai</text>
<text x="1084" y="779.4" textLength="83.8162" lengthAdjust="spacingAndGlyphs">Golf von Pirh</text>
<text x="885" y="799.4" textLength="52.5548" lengthAdjust="spacingAndGlyphs">Losteria</text>
<text x="418" y="805.4" textLength="54.0918" lengthAdjust="spacingAndGlyphs">Sottovia</text>
<text x="507" y="827.4" textLength="53.9724" lengthAdjust="spacingAndGlyphs">Rotheim</text>
<text x="679" y="829.4" textLength="94.3062" lengthAdjust="spacingAndGlyphs">Mouchimoglou</text>
<text x="341" y="854.4" textLength="32.2163" lengthAdjust="spacingAndGlyphs">Ailea</text>
<text x="802" y="863.4" textLength="52.7041" lengthAdjust="spacingAndGlyphs">Samyria</text>
<text x="445" y="873.4" textLength="88.3077" lengthAdjust="spacingAndGlyphs">Zinnoberburg</text>
<text x="145" y="877.4" textLength="89.8894" lengthAdjust="spacingAndGlyphs">Golf von Ailea</text>
<text x="690" y="892.4" textLength="79.9962" lengthAdjust="spacingAndGlyphs">Karminstadt</text>
<text x="165" y="942.4" textLength="96.2013" lengthAdjust="spacingAndGlyphs">Suedwestmeer</text>
<text x="838" y="944.4" textLength="108.661" lengthAdjust="spacingAndGlyphs">Froidevaux-Meer</text>
<text x="517" y="962.4" textLength="71.252" lengthAdjust="spacingAndGlyphs">Lithiumsee</text>
<text x="288" y="994.4" textLength="41.1247" lengthAdjust="spacingAndGlyphs">Abaun</text>
<text x="370" y="995.4" textLength="55.3602" lengthAdjust="spacingAndGlyphs">Ornheim</text>
<text x="1080" y="1001.4" textLength="85.7112" lengthAdjust="spacingAndGlyphs">Suedostmeer</text>
<text x="572" y="1014.4" textLength="57.7775" lengthAdjust="spacingAndGlyphs">Daxmeer</text>
<text x="50" y="1018.4" textLength="39.3639" lengthAdjust="spacingAndGlyphs">Corws</text>
</g>
<g font-family="Liberation Sans, sans-serif" font-weight="bold" font-size="10.2" fill="#000" stroke="#fff" stroke-width="1.8" stroke-linejoin="round" paint-order="stroke" text-anchor="middle">
<text x="147" y="422.6" textLength="23.0969" lengthAdjust="spacingAndGlyphs">(wc)</text>
<text x="1061" y="467.6" textLength="20.7664" lengthAdjust="spacingAndGlyphs">(ec)</text>
<text x="209" y="482.6" textLength="20.7664" lengthAdjust="spacingAndGlyphs">(ec)</text>
<text x="225" y="534.6" textLength="20.7664" lengthAdjust="spacingAndGlyphs">(ec)</text>
<text x="987" y="540.6" textLength="23.0969" lengthAdjust="spacingAndGlyphs">(wc)</text>
<text x="139" y="577.6" textLength="23.0969" lengthAdjust="spacingAndGlyphs">(wc)</text>
<text x="1000" y="588.6" textLength="23.0969" lengthAdjust="spacingAndGlyphs">(wc)</text>
<text x="1050" y="624.6" textLength="20.7664" lengthAdjust="spacingAndGlyphs">(ec)</text>
</g>
</svg>
</body></html>
